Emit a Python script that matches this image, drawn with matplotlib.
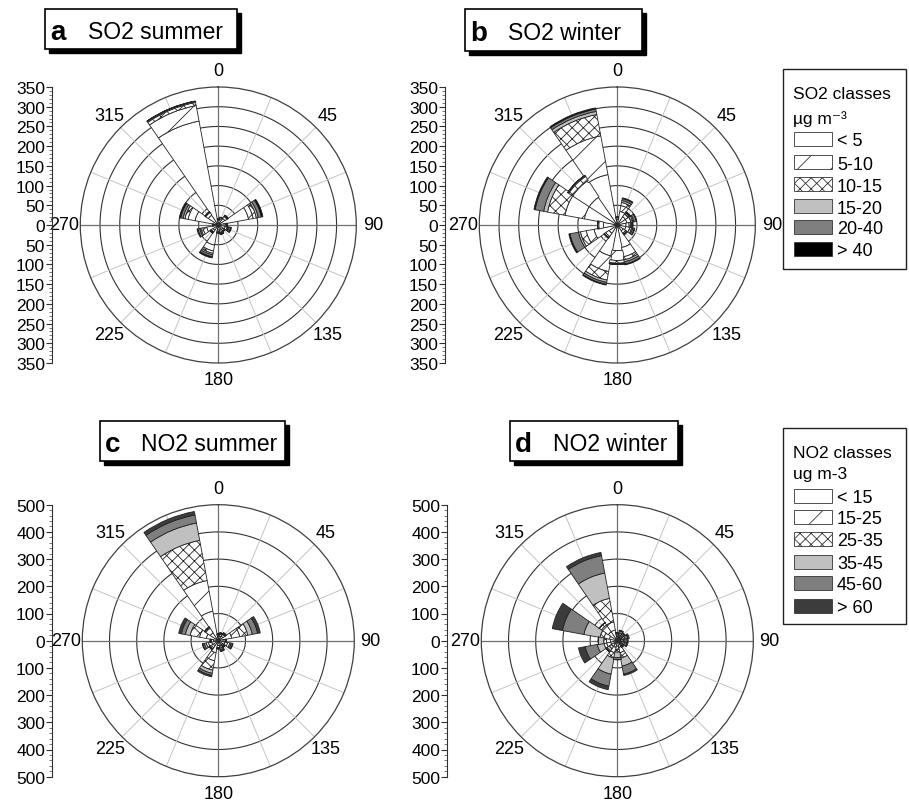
import matplotlib
matplotlib.use('Agg')
import matplotlib.pyplot as plt
import numpy as np
from matplotlib.patches import Rectangle

plt.rcParams['font.family'] = ['Liberation Sans', 'DejaVu Sans']
plt.rcParams['hatch.linewidth'] = 0.6

W, H = 909, 804

directions = np.arange(0, 360, 22.5)
angle_labels = [0, 45, 90, 135, 180, 225, 270, 315]

so2_classes = ['< 5', '5-10', '10-15', '15-20', '20-40', '> 40']
no2_classes = ['< 15', '15-25', '25-35', '35-45', '45-60', '> 60']

# one row per direction (0, 22.5, ... 337.5), one column per class
so2_summer = [
    [12, 3, 0, 0, 0, 0],
    [15, 4, 1, 0, 0, 0],
    [20, 6, 2, 1, 1, 0],
    [78, 12, 8, 5, 8, 4],
    [15, 4, 2, 1, 1, 0],
    [18, 5, 3, 2, 4, 2],
    [14, 4, 2, 0, 0, 0],
    [14, 5, 2, 1, 2, 1],
    [13, 4, 2, 1, 0, 0],
    [52, 15, 6, 4, 5, 3],
    [16, 5, 2, 1, 1, 0],
    [30, 10, 5, 3, 5, 2],
    [10, 3, 1, 0, 0, 0],
    [60, 18, 8, 5, 6, 3],
    [30, 8, 2, 0, 0, 0],
    [268, 40, 8, 3, 0, 1],
]
so2_winter = [
    [14, 4, 2, 0, 0, 0],
    [35, 15, 8, 5, 5, 2],
    [25, 8, 4, 2, 1, 0],
    [25, 10, 5, 3, 6, 1],
    [22, 8, 4, 2, 3, 1],
    [22, 10, 5, 3, 4, 1],
    [18, 7, 3, 1, 1, 0],
    [58, 24, 8, 5, 6, 2],
    [65, 25, 7, 2, 1, 0],
    [80, 40, 22, 6, 5, 2],
    [25, 10, 4, 1, 0, 0],
    [60, 20, 15, 5, 22, 3],
    [35, 12, 3, 0, 0, 0],
    [85, 50, 45, 10, 22, 3],
    [85, 50, 12, 3, 0, 0],
    [130, 100, 55, 8, 6, 3],
]
no2_summer = [
    [15, 5, 3, 1, 1, 0],
    [18, 7, 3, 1, 1, 0],
    [20, 8, 4, 2, 1, 0],
    [50, 30, 30, 17, 20, 10],
    [18, 7, 3, 1, 1, 0],
    [25, 10, 8, 5, 5, 2],
    [18, 6, 3, 2, 1, 0],
    [20, 8, 5, 4, 3, 0],
    [18, 7, 3, 1, 1, 0],
    [45, 30, 35, 12, 8, 5],
    [22, 9, 5, 3, 1, 0],
    [25, 12, 8, 7, 6, 2],
    [18, 7, 3, 1, 1, 0],
    [45, 25, 35, 18, 15, 10],
    [35, 20, 5, 0, 0, 0],
    [110, 115, 150, 65, 30, 13],
]
no2_winter = [
    [15, 6, 4, 3, 2, 0],
    [12, 6, 5, 6, 8, 3],
    [12, 6, 5, 5, 5, 2],
    [12, 6, 5, 6, 10, 6],
    [12, 6, 5, 5, 8, 4],
    [12, 6, 5, 5, 8, 4],
    [10, 5, 5, 4, 4, 2],
    [25, 20, 20, 30, 30, 5],
    [20, 12, 10, 20, 8, 0],
    [25, 20, 20, 60, 45, 13],
    [15, 10, 10, 10, 5, 0],
    [25, 15, 10, 25, 45, 25],
    [25, 15, 10, 20, 0, 0],
    [30, 20, 15, 60, 80, 38],
    [40, 30, 10, 0, 0, 0],
    [40, 30, 88, 95, 65, 12],
]

so2_colors = ['white', 'white', 'white', '#c0c0c0', '#7f7f7f', '#000000']
no2_colors = ['white', 'white', 'white', '#c0c0c0', '#7f7f7f', '#3c3c3c']
hatches = [None, '/', 'xxx', None, None, None]

fig = plt.figure(figsize=(W / 100, H / 100), dpi=100)
ov = fig.add_axes([0, 0, 1, 1])
ov.set_xlim(0, W)
ov.set_ylim(H, 0)
ov.axis('off')


def draw_rose(cx, cy, rad, rmax, step, data, colors):
    ax = fig.add_axes([(cx - rad) / W, 1 - (cy + rad) / H, 2 * rad / W, 2 * rad / H],
                      projection='polar')
    ax.set_theta_zero_location('N')
    ax.set_theta_direction(-1)
    ax.grid(False)
    ax.set_xticks([])
    ax.set_yticks([])
    ax.spines['polar'].set_color('#404040')
    ax.spines['polar'].set_linewidth(0.9)
    th = np.linspace(0, 2 * np.pi, 361)
    for r in np.arange(step, rmax, step):
        ax.plot(th, np.full_like(th, r), color='#333333', lw=0.8, zorder=1)
    for a in directions:
        if a % 90 == 0:
            ax.plot([np.deg2rad(a)] * 2, [0, rmax], color='#707070', lw=0.9, zorder=1.5)
        else:
            ax.plot([np.deg2rad(a)] * 2, [0, rmax], color='#c4c4c4', lw=0.7, zorder=1.2)
    vals = np.array(data, dtype=float)
    bottom = np.zeros(len(directions))
    for k in range(vals.shape[1]):
        ax.bar(np.deg2rad(directions), vals[:, k], width=np.deg2rad(24), bottom=bottom,
               color=colors[k], hatch=hatches[k], edgecolor='#222222', linewidth=0.6, zorder=3)
        bottom += vals[:, k]
    ax.set_ylim(0, rmax)
    for a in angle_labels:
        ax.text(np.deg2rad(a), rmax * 1.12, str(a), ha='center', va='center', fontsize=13)


def draw_scale(x, cy, rad, rmax, major, minor):
    sa = fig.add_axes([x / W, 1 - (cy + rad) / H, 0.0001, 2 * rad / H])
    sa.set_ylim(-rmax, rmax)
    for s in ['top', 'right', 'bottom']:
        sa.spines[s].set_visible(False)
    sa.spines['left'].set_color('#303030')
    sa.spines['left'].set_linewidth(0.8)
    sa.patch.set_visible(False)
    sa.set_xticks([])
    ticks = np.arange(-rmax, rmax + 1, major)
    sa.set_yticks(ticks)
    sa.set_yticklabels([str(abs(int(t))) for t in ticks])
    sa.set_yticks(np.arange(-rmax, rmax + 1, minor), minor=True)
    sa.tick_params(axis='y', which='major', length=4, width=0.8, pad=1, labelsize=12.5,
                   color='#303030')
    sa.tick_params(axis='y', which='minor', length=2, width=0.6, color='#606060')


def title_box(x0, y0, x1, y1, letter, text, tx):
    ov.add_patch(Rectangle((x0 + 4, y0 + 4), x1 - x0, y1 - y0, facecolor='black',
                           edgecolor='black', lw=1))
    ov.add_patch(Rectangle((x0, y0), x1 - x0, y1 - y0, facecolor='white',
                           edgecolor='black', lw=1.2))
    yc = (y0 + y1) / 2
    ov.text(x0 + 5, yc, letter, fontsize=20, fontweight='bold', va='center_baseline')
    ov.text(tx, yc, text, fontsize=16.5, va='center_baseline')


def draw_legend(x0, y0, x1, y1, title, unit, ty, uy, rows, labels, colors):
    ov.add_patch(Rectangle((x0, y0), x1 - x0, y1 - y0, fill=False, edgecolor='#202020', lw=1))
    ov.text(x0 + 10, ty, title, fontsize=12.5, va='center_baseline')
    ov.text(x0 + 10, uy, unit, fontsize=12.5, va='center_baseline')
    for yy, lab, col, hat in zip(rows, labels, colors, hatches):
        ov.add_patch(Rectangle((x0 + 11, yy - 7), 38, 14, facecolor=col, hatch=hat,
                               edgecolor='#333333', lw=0.6))
        ov.text(x0 + 54, yy, lab, fontsize=13, va='center_baseline')


draw_rose(218.3, 226, 138, 350, 50, so2_summer, so2_colors)
draw_rose(617.3, 226, 138, 350, 50, so2_winter, so2_colors)
draw_rose(218.3, 641.7, 136, 500, 100, no2_summer, no2_colors)
draw_rose(617.3, 641.7, 136, 500, 100, no2_winter, no2_colors)

draw_scale(52, 226, 138, 350, 50, 10)
draw_scale(445, 226, 138, 350, 50, 10)
draw_scale(52, 641.7, 136, 500, 100, 20)
draw_scale(447, 641.7, 136, 500, 100, 20)

title_box(45, 10, 237, 50, 'a', 'SO2 summer', 88)
title_box(465, 10, 642, 52, 'b', 'SO2 winter', 508)
title_box(100, 422, 285, 462, 'c', 'NO2 summer', 141)
title_box(510, 422, 678, 462, 'd', 'NO2 winter', 553)

draw_legend(783, 70, 906, 270, 'SO2 classes', 'µg m⁻³', 93, 118,
            [140, 163, 185, 207, 228, 250], so2_classes, so2_colors)
draw_legend(783, 429, 906, 625, 'NO2 classes', 'ug m-3', 452, 473,
            [497, 518, 540, 563, 584, 607], no2_classes, no2_colors)

fig.savefig('out.png', dpi=100)
